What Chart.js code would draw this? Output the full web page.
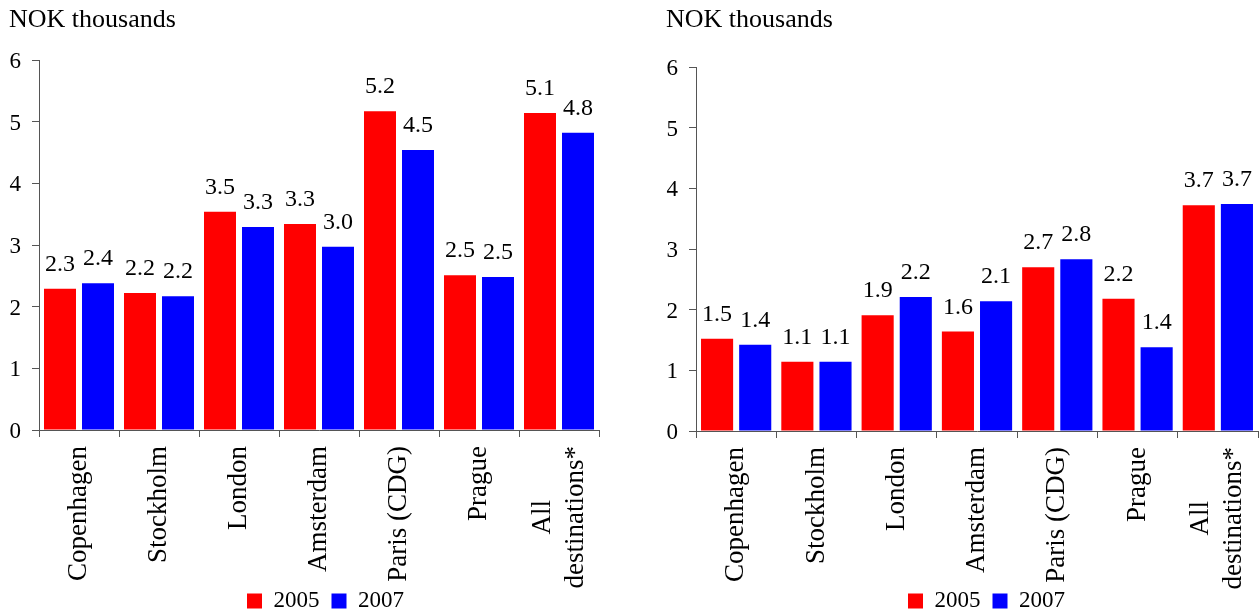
<!DOCTYPE html>
<html>
<head>
<meta charset="utf-8">
<script src="https://cdn.jsdelivr.net/npm/chart.js@4.4.1/dist/chart.umd.min.js"></script>
<style>
  html, body { margin: 0; padding: 0; background: #fff; overflow: hidden; }
  #wrap { position: relative; width: 1260px; height: 616px; overflow: hidden; }
  canvas { position: absolute; top: 0; }
  #c1 { left: 0; }
  #c2 { left: 640px; }
</style>
</head>
<body>
<div id="wrap">
  <canvas id="c1" width="644" height="640"></canvas>
  <canvas id="c2" width="620" height="640"></canvas>
</div>
<script>
// Destinations shown on the category axis
const destinations = [
  'Copenhagen', 'Stockholm', 'London', 'Amsterdam', 'Paris (CDG)', 'Prague',
  ['All', 'destinations*']
];
const seriesNames = ['2005', '2007'];
const unitLabel = 'NOK thousands';
const yTicks = [0, 1, 2, 3, 4, 5, 6];

// Left panel, NOK thousands
const left2005 = [2.29, 2.22, 3.54, 3.34, 5.17, 2.51, 5.14];
const left2007 = [2.38, 2.17, 3.29, 2.97, 4.54, 2.48, 4.82];

// Right panel, NOK thousands
const right2005 = [1.52, 1.14, 1.91, 1.64, 2.70, 2.18, 3.72];
const right2007 = [1.42, 1.14, 2.21, 2.14, 2.83, 1.38, 3.74];

const RED = '#ff0000';
const BLUE = '#0000ff';
const AXIS = '#555555';
const FONT = "'Liberation Serif', 'Times New Roman', serif";

Chart.defaults.font.family = FONT;
Chart.defaults.color = '#000';

// Unit caption above the value axis
const unitCaption = {
  id: 'unitCaption',
  afterDraw(chart) {
    const ctx = chart.ctx;
    ctx.save();
    ctx.font = '26px ' + FONT;
    ctx.fillStyle = '#000';
    ctx.textAlign = 'left';
    ctx.textBaseline = 'alphabetic';
    ctx.fillText(unitLabel, chart.chartArea.left - 30, 27);
    ctx.restore();
  }
};

// Value printed above every bar, one decimal
const barValues = {
  id: 'barValues',
  afterDatasetsDraw(chart) {
    const ctx = chart.ctx;
    ctx.save();
    ctx.font = '24px ' + FONT;
    ctx.fillStyle = '#000';
    ctx.textAlign = 'center';
    ctx.textBaseline = 'alphabetic';
    chart.data.datasets.forEach((ds, di) => {
      chart.getDatasetMeta(di).data.forEach((bar, i) => {
        ctx.fillText(ds.data[i].toFixed(1), bar.x, bar.y - 18);
      });
    });
    ctx.restore();
  }
};

// Vertical category names, multi-line names centred on each other
const categoryNames = {
  id: 'categoryNames',
  afterDraw(chart) {
    const ctx = chart.ctx;
    const xs = chart.scales.x;
    const top = chart.chartArea.bottom + 16;
    const lineH = 33;
    ctx.save();
    ctx.font = '27px ' + FONT;
    ctx.fillStyle = '#000';
    ctx.textAlign = 'center';
    ctx.textBaseline = 'middle';
    chart.data.labels.forEach((lab, i) => {
      const lines = Array.isArray(lab) ? lab : [lab];
      const maxW = Math.max(...lines.map(l => ctx.measureText(l).width));
      const x = xs.getPixelForValue(i);
      ctx.save();
      ctx.translate(x, top);
      ctx.rotate(-Math.PI / 2);
      lines.forEach((l, k) => {
        ctx.fillText(l, -maxW / 2, (k - (lines.length - 1) / 2) * lineH);
      });
      ctx.restore();
    });
    ctx.restore();
  }
};

// Slide the legend row sideways so it sits under the bars
const legendShift = {
  id: 'legendShift',
  afterLayout(chart, args, opts) {
    if (chart.legend && opts.dx) {
      chart.legend.left += opts.dx;
      chart.legend.right += opts.dx;
    }
  }
};

function makeChart(id, d2005, d2007, cfg) {
  return new Chart(document.getElementById(id), {
    type: 'bar',
    data: {
      labels: destinations,
      datasets: [
        { label: seriesNames[0], data: d2005, backgroundColor: RED,
          categoryPercentage: 0.95, barPercentage: 0.842 },
        { label: seriesNames[1], data: d2007, backgroundColor: BLUE,
          categoryPercentage: 0.95, barPercentage: 0.842 }
      ]
    },
    options: {
      responsive: false,
      animation: false,
      devicePixelRatio: 1,
      layout: { padding: { left: 0, right: cfg.padRight, top: cfg.padTop, bottom: 17.5 } },
      plugins: {
        legend: {
          position: 'bottom',
          labels: { boxWidth: 15, boxHeight: 15, padding: 12,
                    font: { size: 23 }, color: '#000' }
        },
        legendShift: { dx: cfg.legendDx },
        tooltip: { enabled: false }
      },
      scales: {
        x: {
          grid: { display: true, drawOnChartArea: false, tickLength: 7,
                  color: AXIS, offset: true },
          border: { color: AXIS, width: 1 },
          ticks: { display: false },
          afterFit(s) { s.height = cfg.xHeight; }
        },
        y: {
          min: 0, max: 6,
          afterBuildTicks(s) { s.ticks = yTicks.map(v => ({ value: v })); },
          grid: { display: true, drawOnChartArea: false, tickLength: 7, color: AXIS },
          border: { color: AXIS, width: 1 },
          ticks: { font: { size: 23 }, color: '#000', padding: 11, labelOffset: 2 },
          afterFit(s) { s.width = cfg.yWidth; }
        }
      }
    },
    plugins: [unitCaption, barValues, categoryNames, legendShift]
  });
}

makeChart('c1', left2005, left2007,
  { padRight: 45, padTop: 60, yWidth: 39, xHeight: 147.5, legendDx: 26 });
makeChart('c2', right2005, right2007,
  { padRight: 2, padTop: 67, yWidth: 56, xHeight: 146.5, legendDx: 37.5 });
</script>
</body>
</html>
